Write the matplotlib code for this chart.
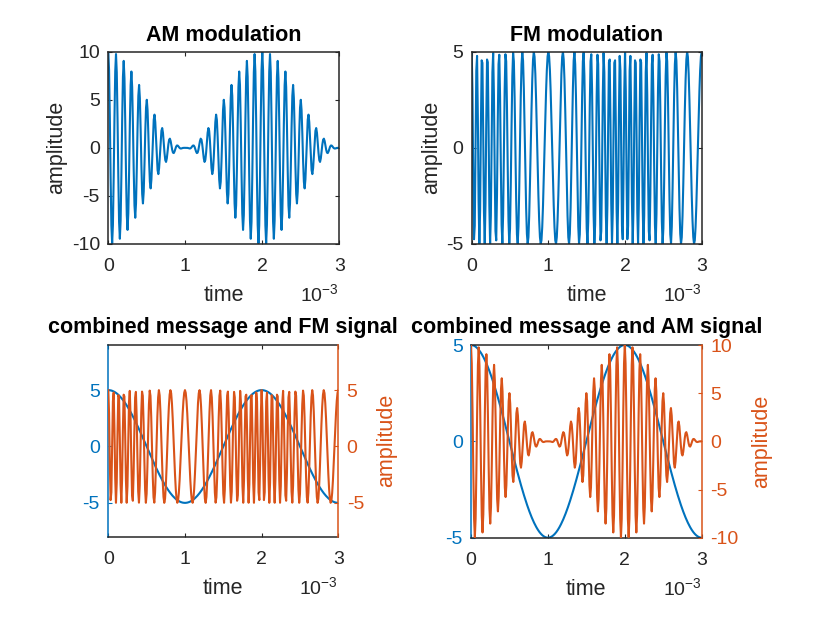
import numpy as np
import matplotlib
matplotlib.use("Agg")
import matplotlib.pyplot as plt

# ---- signal parameters ----
fs = 100e3            # sample rate (Hz)
t_end = 3e-3          # duration (s)
fm = 500.0            # message frequency (Hz), period 2 ms
Am = 5.0              # message amplitude
fc = 10e3             # carrier frequency (Hz)
Ac = 5.0              # carrier amplitude
freq_dev = 1000.0     # FM deviation per unit of message (Hz)

t = np.arange(0, t_end + 0.5 / fs, 1 / fs)
message = Am * np.cos(2 * np.pi * fm * t)
am_signal = Ac * (1 + message / Am) * np.cos(2 * np.pi * fc * t)
fm_signal = Ac * np.cos(2 * np.pi * fc * t
                        + freq_dev * Am / fm * np.sin(2 * np.pi * fm * t))

xticks = [0, 1e-3, 2e-3, 3e-3]
xticklabels = ['0', '1', '2', '3']
am_yticks = [-10, -5, 0, 5, 10]
fm_yticks = [-5, 0, 5]
titles = ['AM modulation', 'FM modulation',
          'combined message and FM signal', 'combined message and AM signal']

# ---- styling ----
BLUE = '#0072BD'
ORANGE = '#D95319'
GRAY = '#262626'
plt.rcParams['font.family'] = ['Liberation Sans', 'DejaVu Sans']
plt.rcParams['mathtext.fontset'] = 'custom'
plt.rcParams['mathtext.rm'] = 'Liberation Sans'
plt.rcParams['mathtext.default'] = 'regular'
plt.rcParams['axes.unicode_minus'] = False
TICK_FS = 14
LABEL_FS = 15.5
LW = 1.5

W, H = 827, 618
fig = plt.figure(figsize=(W / 100, H / 100), dpi=100)
fig.patch.set_facecolor('white')


def add_axes_px(x0, y0, x1, y1):
    return fig.add_axes([x0 / W, 1 - y1 / H, (x1 - x0) / W, (y1 - y0) / H])


def style_x(ax):
    ax.set_xlim(0, t_end)
    ax.set_xticks(xticks)
    ax.set_xticklabels(xticklabels)
    ax.tick_params(axis='x', direction='in', top=True, bottom=True,
                   length=3, width=0.8, colors=GRAY, labelsize=TICK_FS, pad=10)
    ax.set_xlabel('time', fontsize=LABEL_FS, color=GRAY)
    ax.xaxis.label.set_va('baseline')
    h = ax.get_position().height * H
    ax.xaxis.set_label_coords(0.5, -57 / h)
    ax.text(1.0, -57 / h, r'$10^{-3}$', transform=ax.transAxes,
            ha='right', va='baseline', fontsize=TICK_FS, color=GRAY)
    for s in ('top', 'bottom'):
        ax.spines[s].set_color(GRAY)
        ax.spines[s].set_linewidth(1.1)


def style_single(ax, ylim, yticks, title):
    style_x(ax)
    ax.set_ylim(*ylim)
    ax.set_yticks(yticks)
    ax.tick_params(axis='y', direction='in', left=True, right=True,
                   length=3, width=0.8, colors=GRAY, labelsize=TICK_FS, pad=6)
    for s in ('left', 'right'):
        ax.spines[s].set_color(GRAY)
        ax.spines[s].set_linewidth(1.1)
    ax.set_ylabel('amplitude', fontsize=LABEL_FS, color=GRAY, labelpad=3)
    ax.set_title(title, fontsize=LABEL_FS, fontweight='bold', color='black', pad=8)


# ---- top-left: AM ----
ax1 = add_axes_px(108.3, 51.7, 339.3, 244.0)
ax1.plot(t, am_signal, color=BLUE, lw=LW)
style_single(ax1, (-10, 10), am_yticks, titles[0])

# ---- top-right: FM ----
ax2 = add_axes_px(471.7, 51.7, 701.7, 244.0)
ax2.plot(t, fm_signal, color=BLUE, lw=LW)
style_single(ax2, (-5, 5), fm_yticks, titles[1])


def style_twin(ax, axr, ylim_l, ticks_l, ylim_r, ticks_r, title):
    style_x(ax)
    ax.set_ylim(*ylim_l)
    ax.set_yticks(ticks_l)
    axr.set_ylim(*ylim_r)
    axr.set_yticks(ticks_r)
    ax.tick_params(axis='y', direction='in', left=True, right=False,
                   length=3, width=0.8, colors=BLUE, labelsize=TICK_FS, pad=6)
    axr.tick_params(axis='y', direction='in', left=False, right=True,
                    length=3, width=0.8, colors=ORANGE, labelsize=TICK_FS, pad=6)
    ax.spines['left'].set_color(BLUE)
    ax.spines['left'].set_linewidth(1.1)
    ax.spines['right'].set_visible(False)
    axr.spines['right'].set_color(ORANGE)
    axr.spines['right'].set_linewidth(1.1)
    for s in ('top', 'bottom', 'left'):
        axr.spines[s].set_visible(False)
    axr.set_ylabel('amplitude', fontsize=LABEL_FS, color=ORANGE, labelpad=9,
                   rotation=90)
    ax.set_title(title, fontsize=LABEL_FS, fontweight='bold', color='black', pad=9)


# ---- bottom-left: message + FM ----
ax3 = add_axes_px(108.3, 345.0, 338.3, 536.7)
ax3r = ax3.twinx()
ax3.plot(t, message, color=BLUE, lw=LW)
ax3r.plot(t, fm_signal, color=ORANGE, lw=LW)
style_twin(ax3, ax3r, (-8, 9), fm_yticks, (-8, 9), fm_yticks, titles[2])

# ---- bottom-right: message + AM ----
ax4 = add_axes_px(471.0, 345.0, 701.7, 537.7)
ax4r = ax4.twinx()
ax4.plot(t, message, color=BLUE, lw=LW)
ax4r.plot(t, am_signal, color=ORANGE, lw=LW)
style_twin(ax4, ax4r, (-5, 5), fm_yticks, (-10, 10), am_yticks, titles[3])

fig.savefig('out.png', dpi=100, facecolor='white')
